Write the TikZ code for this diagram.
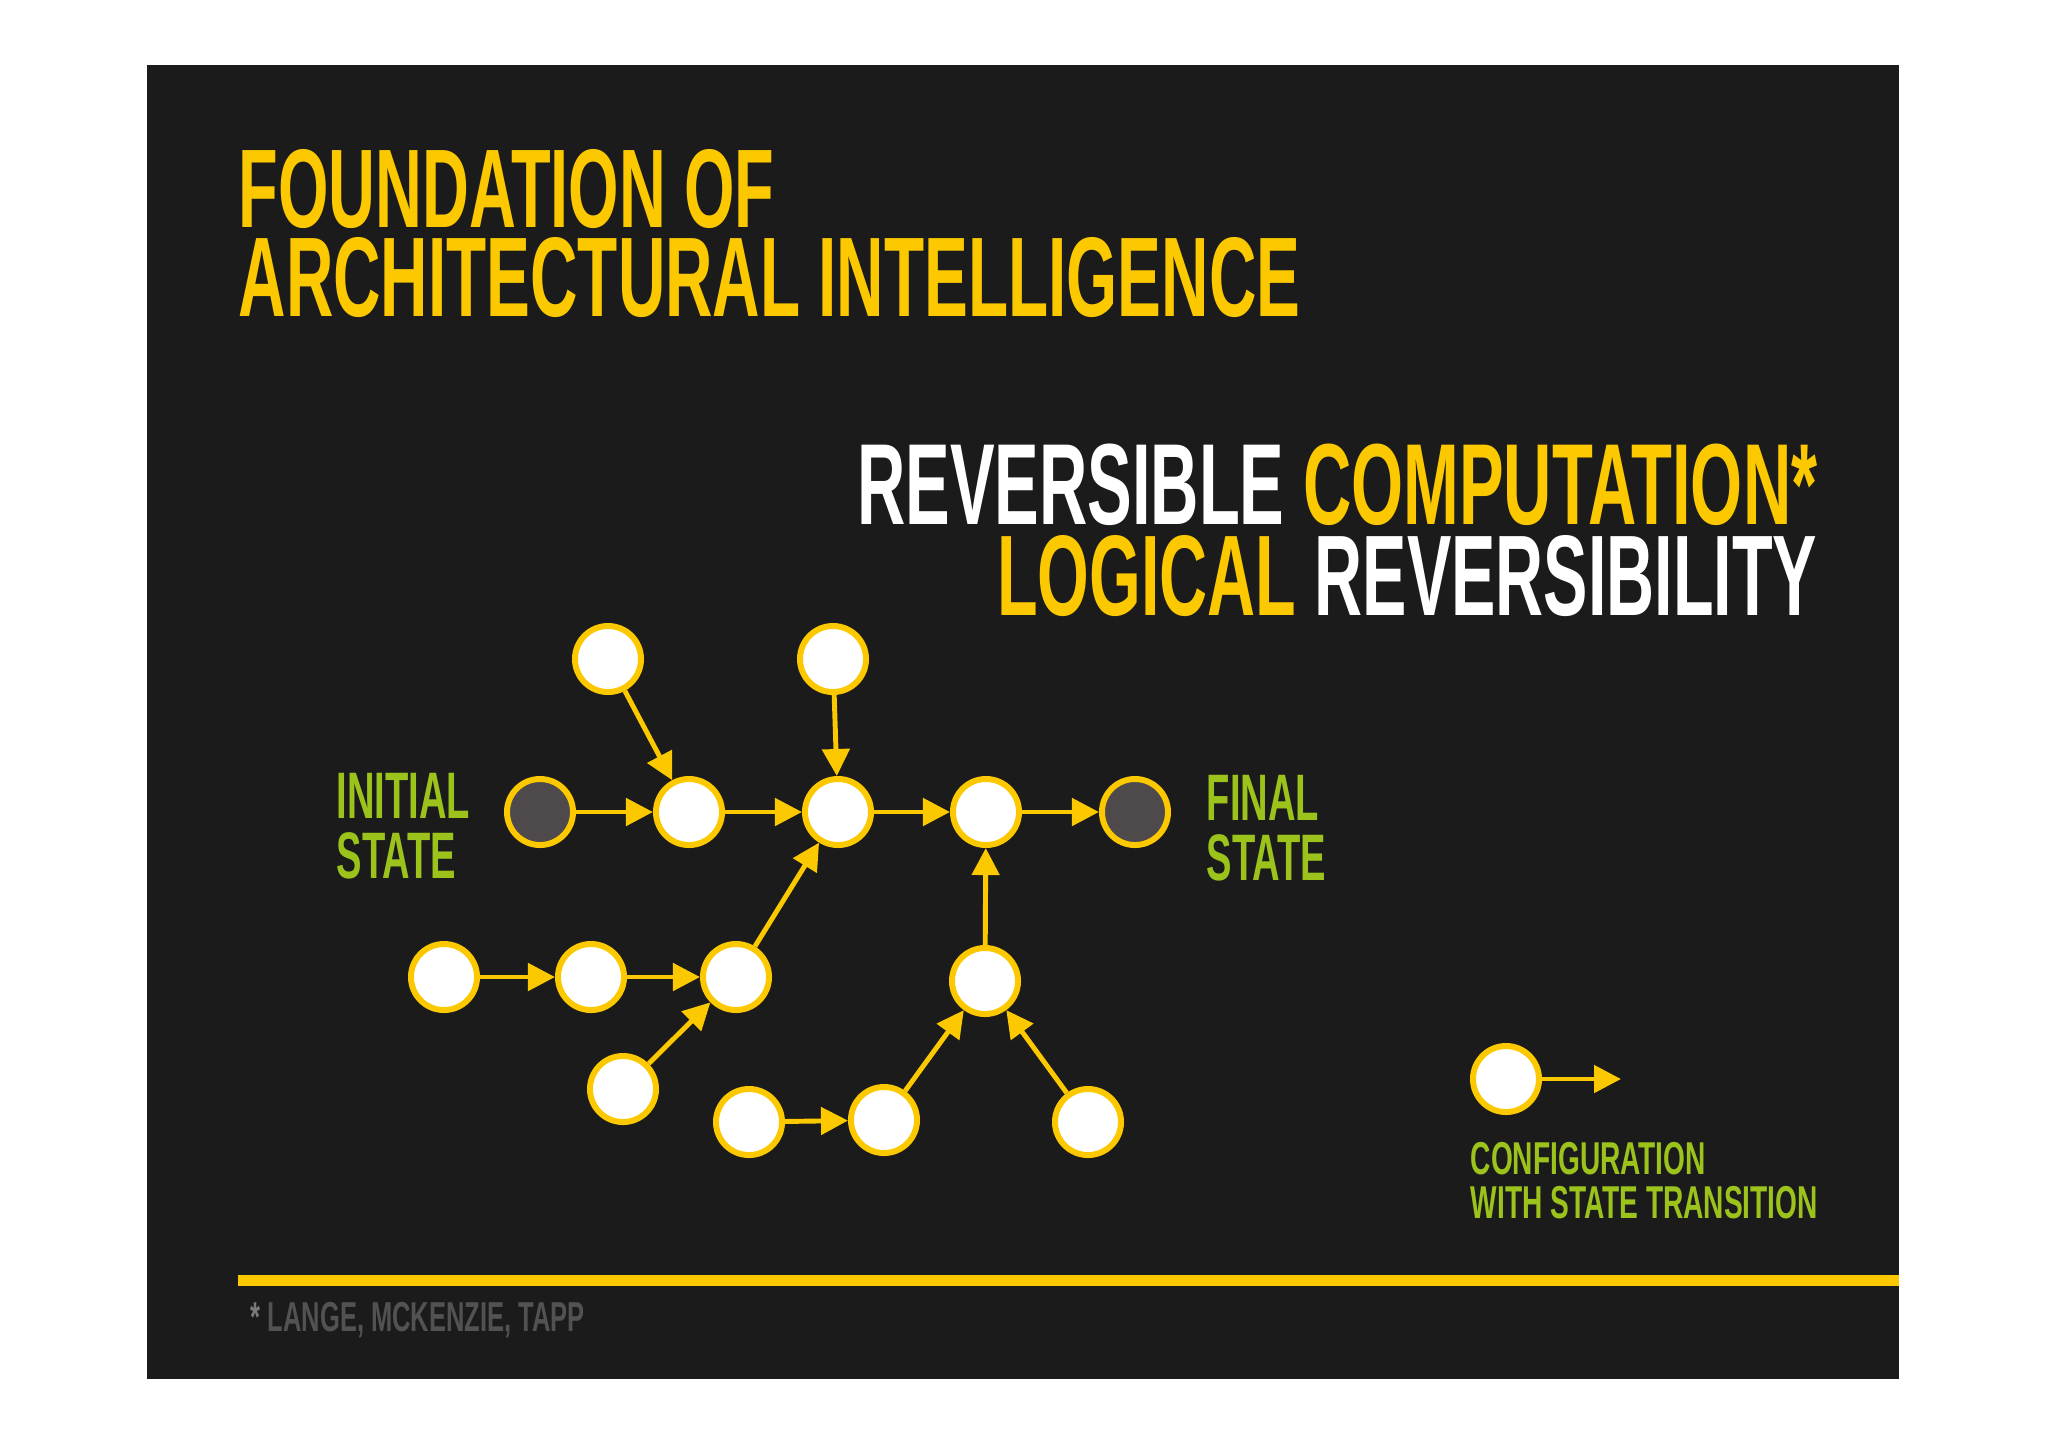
\documentclass[tikz,border=0pt]{standalone}
\usepackage{fontspec}
\setmainfont{Liberation Sans}
\newfontfamily\poster[FakeStretch=0.58]{Liberation Sans}
\newfontfamily\posterwide[FakeStretch=0.61]{Liberation Sans}
\usetikzlibrary{arrows.meta}
\definecolor{signal}{HTML}{FCC900}
\definecolor{lime}{HTML}{9CC31B}
\definecolor{board}{HTML}{1B1B1B}
\definecolor{slate}{HTML}{4E4A4C}
\definecolor{ash}{HTML}{525252}
\definecolor{star}{HTML}{7A7A7A}
\tikzset{
	config/.style={circle, draw=signal, line width=1.7pt, fill=white, minimum size=0.66cm, inner sep=0pt},
	endstate/.style={config, fill=slate},
	trans/.style={draw=signal, line width=1.4pt, -{Triangle[length=0.27cm,width=0.27cm]}},
	caption/.style={inner sep=0pt, anchor=base west, text height={0.7*#1}, text depth=0pt, font=\poster\bfseries\fontsize{#1}{#1}\selectfont},
	smallcaption/.style={caption=#1, font=\posterwide\bfseries\fontsize{#1}{#1}\selectfont}
}

\begin{document}
\begin{tikzpicture}[x=0.01cm, y=-0.01cm]
		\useasboundingbox (0,0) rectangle (2048,1447);
		\fill[white] (0,0) rectangle (2048,1447);
		\fill[board] (147,65) rectangle (1899,1379);
		% headings
		\node[caption=31.8pt, text=signal] (title1) at (238,227) {FOUNDATION OF};
		\node[caption=32.2pt, text=signal] (title2) at (238,316) {ARCHITECTURAL INTELLIGENCE};
		\node[caption=32.8pt, anchor=base east, text=white] (sub1) at (1818,524) {REVERSIBLE \textcolor{signal}{COMPUTATION*}};
		\node[caption=32.6pt, anchor=base east, text=white] (sub2) at (1818,615) {\textcolor{signal}{LOGICAL} REVERSIBILITY};
		\node[caption=18.7pt, text=lime] (initial1) at (336,818) {INITIAL};
		\node[caption=18.7pt, text=lime] (initial2) at (336,878) {STATE};
		\node[caption=18.7pt, text=lime] (final1) at (1206,820) {FINAL};
		\node[caption=18.7pt, text=lime] (final2) at (1206,880) {STATE};
		% states
		\node[endstate] (init) at (540,812) {};
		\node[config] (s1) at (689,812) {};
		\node[config] (s2) at (838,812) {};
		\node[config] (s3) at (986,812) {};
		\node[endstate] (final) at (1135,812) {};
		\node[config] (up1) at (608,659) {};
		\node[config] (up2) at (833,659) {};
		\node[config] (left1) at (444,977) {};
		\node[config] (left2) at (591,977) {};
		\node[config] (join) at (736,977) {};
		\node[config] (low) at (623,1089) {};
		\node[config] (rise) at (985,981) {};
		\node[config] (bot1) at (749,1122) {};
		\node[config] (bot2) at (884,1120) {};
		\node[config] (bot3) at (1088,1122) {};
		\foreach \a/\b in {init/s1, s1/s2, s2/s3, s3/final, up1/s1, up2/s2, left1/left2, left2/join, join/s2, low/join, rise/s3, bot1/bot2, bot2/rise, bot3/rise}
			\draw[trans] (\a) -- (\b);
		% legend
		\node[config] (key) at (1506,1079) {};
		\coordinate (keytip) at (1621,1079);
		\draw[trans] (key) -- (keytip);
		\node[smallcaption=13.1pt, text=lime] (legend1) at (1470,1174) {CONFIGURATION};
		\node[smallcaption=13.1pt, text=lime] (legend2) at (1470,1218) {WITH STATE TRANSITION};
		\draw[signal, line width=0.11cm] (238,1280) -- (1899,1280);
		\node[smallcaption=11.9pt, text=ash] (note) at (250,1331) {\textcolor{star}{*} LANGE, MCKENZIE, TAPP};
\end{tikzpicture}
\end{document}
